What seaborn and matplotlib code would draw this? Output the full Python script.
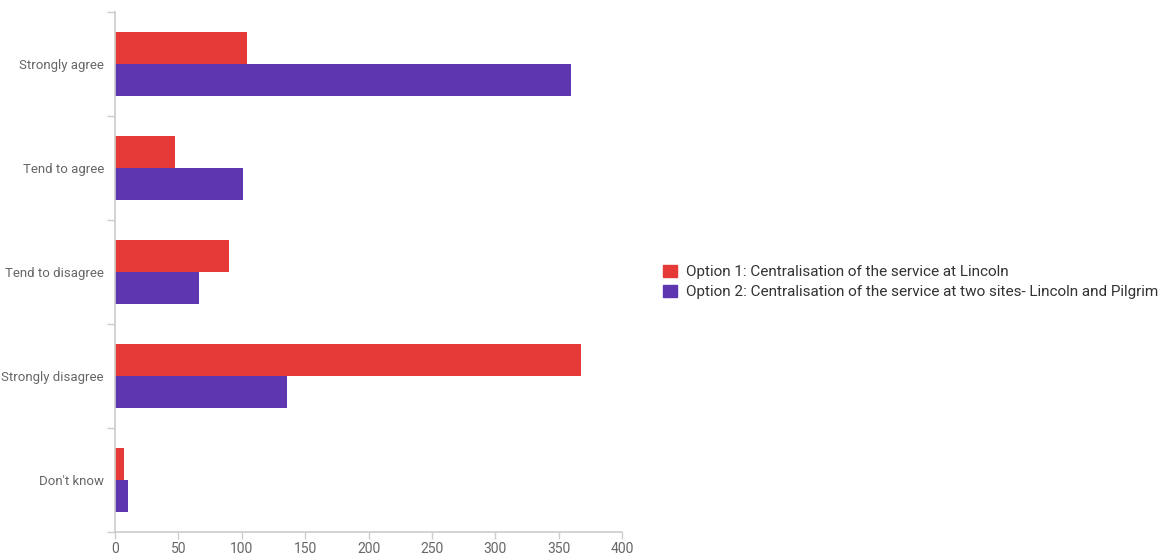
import matplotlib
matplotlib.use("Agg")
import matplotlib.pyplot as plt
import seaborn as sns
import pandas as pd
from matplotlib.patches import Patch

sns.set_theme(style="white")
plt.rcParams['font.family'] = ['Roboto', 'DejaVu Sans']

# dados
categorias = ["Strongly agree", "Tend to agree", "Tend to disagree", "Strongly disagree", "Don't know"]
opcao1 = [104, 47, 90, 368, 7]
opcao2 = [360, 101, 66, 136, 10]
series = ["Option 1: Centralisation of the service at Lincoln",
          "Option 2: Centralisation of the service at two sites- Lincoln and Pilgrim"]
cores = ["#E53A37", "#5E36B0"]

df = pd.DataFrame({
    "categoria": categorias * 2,
    "valor": opcao1 + opcao2,
    "serie": [series[0]] * len(categorias) + [series[1]] * len(categorias),
})

fig = plt.figure(figsize=(11.68, 5.57), dpi=100)
ax = fig.add_axes([115 / 1168, 25 / 557, (622 - 115) / 1168, (532 - 12) / 557])

sns.barplot(data=df, x="valor", y="categoria", hue="serie", order=categorias,
            hue_order=series, palette=cores, orient="h", width=0.62,
            saturation=1, linewidth=0, ax=ax, legend=False)

ax.set_xlim(0, 400)
ax.set_ylim(len(categorias) - 0.5, -0.5)
ax.set_xticks(range(0, 401, 50))
ax.set_xlabel("")
ax.set_ylabel("")

# ticks do eixo y nas divisas das categorias
ax.set_yticks([i - 0.5 for i in range(len(categorias) + 1)], minor=True)
ax.tick_params(axis="y", which="major", length=0, pad=8, labelsize=9.5, labelcolor="#666666")
ax.tick_params(axis="y", which="minor", length=6, color="#cccccc", width=1, left=True)
ax.tick_params(axis="x", which="major", length=5, color="#cccccc", width=1, bottom=True,
               labelsize=10, labelcolor="#666666", pad=2)

for s in ["top", "right"]:
    ax.spines[s].set_visible(False)
for s in ["left", "bottom"]:
    ax.spines[s].set_color("#cccccc")
    ax.spines[s].set_linewidth(1.2)

handles = [Patch(facecolor=c, edgecolor=c) for c in cores]
fig.legend(handles, series, loc="center left", bbox_to_anchor=(649 / 1168, 1 - 282 / 557),
           frameon=False, fontsize=11, handlelength=0.9, handleheight=0.9,
           handletextpad=0.6, labelspacing=0.35, labelcolor="#333333")

plt.savefig("out.png", dpi=100)
